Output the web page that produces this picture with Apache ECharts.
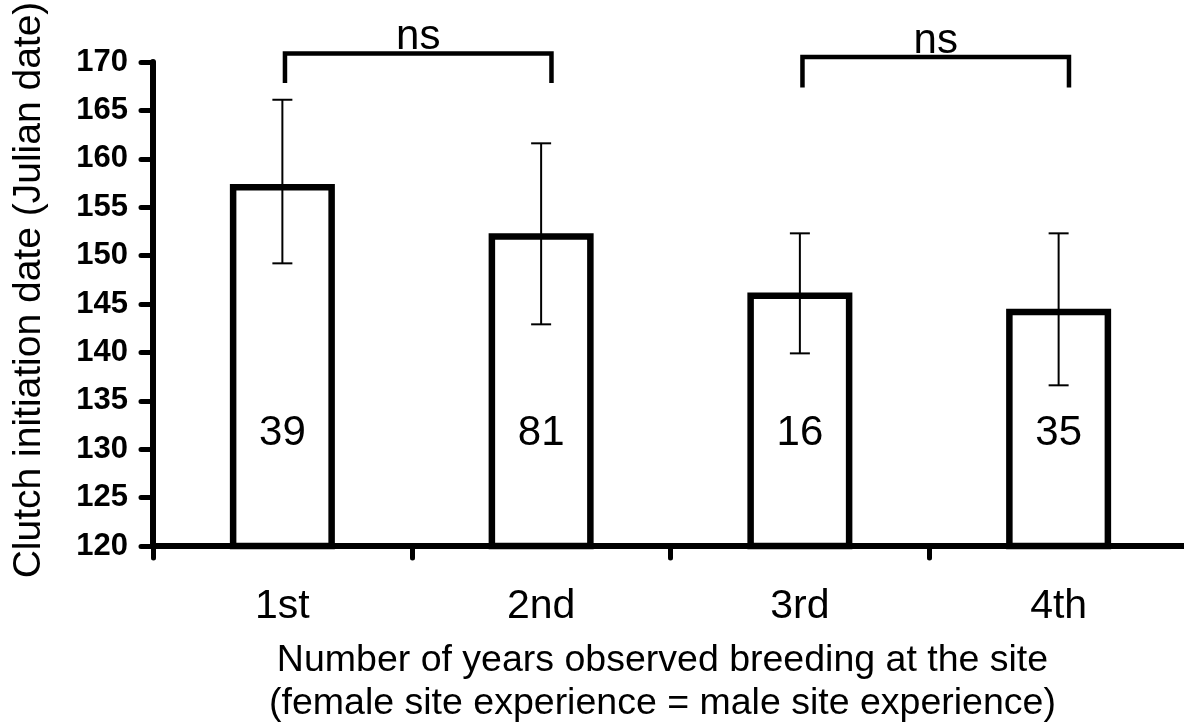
<!DOCTYPE html>
<html>
<head>
<meta charset="utf-8">
<script src="https://cdn.jsdelivr.net/npm/echarts@6/dist/echarts.min.js"></script>
<style>
  html, body { margin: 0; padding: 0; background: #fff; }
  #chart { width: 1184px; height: 727px; }
</style>
</head>
<body>
<div id="chart"></div>
<script>
var categories = ['1st', '2nd', '3rd', '4th'];
var means = [157.4, 152.3, 146.2, 144.5];
var errLow = [149.2, 142.9, 139.9, 136.6];
var errHigh = [166.1, 161.6, 152.3, 152.3];
var sampleSizes = [39, 81, 16, 35];

// significance brackets (category positions, y levels)
var bracketFrom = [0.01, 2.01];
var bracketTo = [1.04, 3.04];
var bracketTop = [170.87, 170.52];
var bracketLeg = [167.83, 167.36];
var bracketText = ['ns', 'ns'];

var FONT = '"Liberation Sans", Arial, sans-serif';

var chart = echarts.init(document.getElementById('chart'));

function errorBars(params, api) {
  var i = params.dataIndex;
  var hi = api.coord([i, errHigh[i]]);
  var lo = api.coord([i, errLow[i]]);
  var half = 10;
  var st = { stroke: '#000', lineWidth: 2 };
  return {
    type: 'group',
    children: [
      { type: 'line', shape: { x1: hi[0], y1: hi[1], x2: lo[0], y2: lo[1] }, style: st },
      { type: 'line', shape: { x1: hi[0] - half, y1: hi[1], x2: hi[0] + half, y2: hi[1] }, style: st },
      { type: 'line', shape: { x1: lo[0] - half, y1: lo[1], x2: lo[0] + half, y2: lo[1] }, style: st }
    ]
  };
}

function brackets(params, api) {
  var i = params.dataIndex;
  var band = api.size([1, 0])[0];
  var x0 = api.coord([0, bracketTop[i]])[0];
  var yTop = api.coord([0, bracketTop[i]])[1];
  var yLeg = api.coord([0, bracketLeg[i]])[1];
  var xa = x0 + bracketFrom[i] * band;
  var xb = x0 + bracketTo[i] * band;
  return {
    type: 'group',
    children: [
      {
        type: 'polyline',
        shape: { points: [[xa, yLeg], [xa, yTop], [xb, yTop], [xb, yLeg]] },
        style: { stroke: '#000', lineWidth: 4.5, fill: null, lineJoin: 'miter' }
      },
      {
        type: 'text',
        style: {
          text: bracketText[i], x: (xa + xb) / 2, y: yTop + 5,
          align: 'center', verticalAlign: 'bottom',
          fontSize: 42, fontFamily: FONT, fill: '#000'
        }
      }
    ]
  };
}

chart.setOption({
  backgroundColor: '#fff',
  animation: false,
  grid: { left: 153, top: 62, right: -4, bottom: 181, outerBoundsMode: 'none', containLabel: false },
  xAxis: {
    type: 'category',
    data: categories,
    boundaryGap: true,
    name: 'Number of years observed breeding at the site\n(female site experience = male site experience)',
    nameLocation: 'middle',
    nameGap: 93,
    nameTextStyle: { fontSize: 37.5, lineHeight: 43, fontFamily: FONT, color: '#000', padding: [0, 16, 0, 0] },
    axisLine: { lineStyle: { color: '#000', width: 6 } },
    axisTick: { show: true, interval: 0, length: 12, lineStyle: { color: '#000', width: 5, cap: 'round' } },
    axisLabel: { fontSize: 41, fontFamily: FONT, color: '#000', margin: 40, interval: 0 },
    splitLine: { show: false }
  },
  yAxis: {
    type: 'value',
    min: 120,
    max: 170,
    interval: 5,
    name: 'Clutch initiation date (Julian date)',
    nameLocation: 'middle',
    nameGap: 104,
    nameTextStyle: { fontSize: 39, fontFamily: FONT, color: '#000', padding: [0, 0, 0, 28] },
    axisLine: { show: true, lineStyle: { color: '#000', width: 6, cap: 'round' } },
    axisTick: { show: true, length: 12, lineStyle: { color: '#000', width: 5, cap: 'round' } },
    axisLabel: { fontSize: 31, fontWeight: 'bold', fontFamily: FONT, color: '#000', margin: 25 },
    splitLine: { show: false }
  },
  series: [
    {
      type: 'bar',
      data: means,
      barWidth: 105,
      itemStyle: { color: '#fff', borderColor: '#000', borderWidth: 6.5 },
      label: {
        show: true,
        position: 'insideBottom',
        distance: 95,
        fontSize: 42,
        fontFamily: FONT,
        color: '#000',
        formatter: function (p) { return sampleSizes[p.dataIndex]; }
      },
      z: 2
    },
    {
      type: 'custom',
      data: means.map(function (m, i) { return [i, m]; }),
      renderItem: errorBars,
      z: 3,
      clip: false
    },
    {
      type: 'custom',
      data: bracketTop.map(function (t, i) { return [i, t]; }),
      renderItem: brackets,
      z: 3,
      clip: false
    }
  ]
});
</script>
</body>
</html>
